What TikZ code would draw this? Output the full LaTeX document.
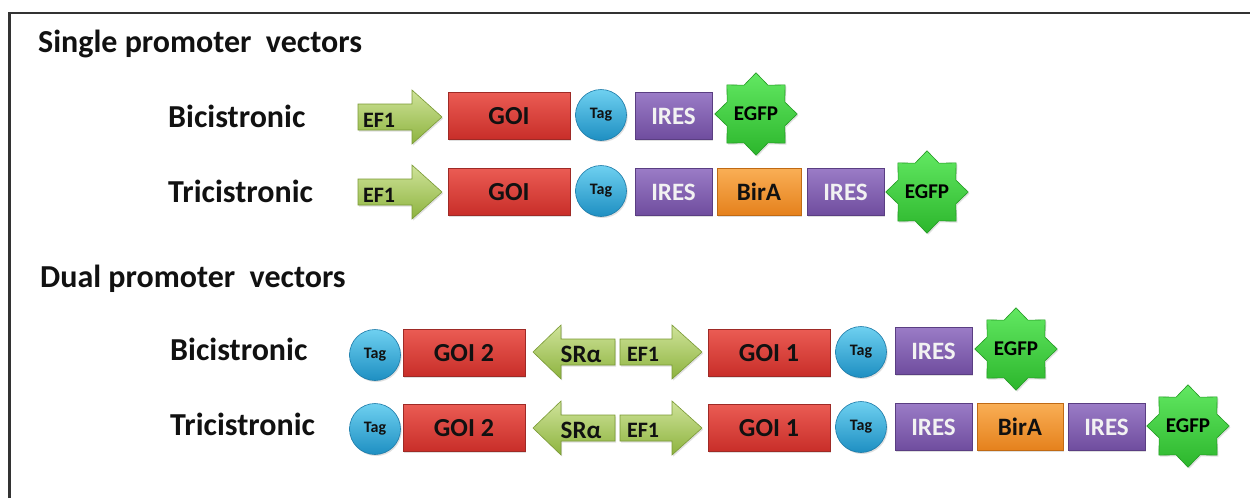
\documentclass[tikz,border=0pt]{standalone}
\usepackage{fontspec}
\setmainfont{Carlito}
\usetikzlibrary{shapes.geometric,shadows}
\definecolor{txt}{HTML}{111111}
\definecolor{redT}{HTML}{EA5B53}
\definecolor{redB}{HTML}{C82E29}
\definecolor{redD}{HTML}{9E2A26}
\definecolor{grT}{HTML}{CFE39A}
\definecolor{grB}{HTML}{8DB33E}
\definecolor{grD}{HTML}{7A9A35}
\definecolor{cyT}{HTML}{6ED0F0}
\definecolor{cyB}{HTML}{1E8FC2}
\definecolor{cyD}{HTML}{1B7AA8}
\definecolor{puT}{HTML}{9A7BC6}
\definecolor{puB}{HTML}{6F4D9E}
\definecolor{puD}{HTML}{5A3E82}
\definecolor{orT}{HTML}{F9AE55}
\definecolor{orB}{HTML}{E5811C}
\definecolor{orD}{HTML}{C06A14}
\definecolor{egT}{HTML}{62E862}
\definecolor{egB}{HTML}{2CB62C}
\definecolor{egD}{HTML}{239A23}
\newcommand\fs[1]{\fontsize{#1}{#1}\selectfont\bfseries}
\begin{document}
\begin{tikzpicture}[x=1pt,y=-1pt,
  sh/.style={drop shadow={opacity=0.25,shadow xshift=1.2pt,shadow yshift=-1.5pt}},
  box/.style={rectangle,minimum height=47pt,inner sep=0pt,line width=0.6pt,sh},
  goi/.style={box,top color=redT,bottom color=redB,draw=redD,text=txt,font=\fs{26}},
  ires/.style={box,minimum width=77pt,top color=puT,bottom color=puB,draw=puD,text=white!95!black,font=\fs{25}},
  bira/.style={box,top color=orT,bottom color=orB,draw=orD,text=txt,font=\fs{25}},
  tag/.style={circle,minimum size=51pt,inner sep=0pt,top color=cyT,bottom color=cyB,draw=cyD,line width=0.6pt,text=txt,font=\fs{16},sh},
  egfp/.style={star,star points=8,star point ratio=1.32,minimum size=78pt,inner sep=0pt,top color=egT,bottom color=egB,draw=egD,line width=0.6pt,text=black,font=\fs{21},sh},
  promo/.style={top color=grT,bottom color=grB,draw=grD,line width=0.6pt,sh},
  ptxt/.style={text=txt,font=\fs{22},inner sep=0pt},
  stxt/.style={text=txt,font=\fs{25},inner sep=0pt},
  lab/.style={anchor=base west,text=txt,font=\fs{32},inner sep=0pt},
  ttl/.style={anchor=base west,text=txt,font=\fs{32},inner sep=0pt}]
\useasboundingbox (0,0) rectangle (1250,498);
\fill[white] (0,0) rectangle (1250,498);
\draw[line width=2.6pt,color=black!80] (9.5,498) -- (9.5,13) -- (1250,13);
% arrows: right arrow from xl to tip xt at y
\newcommand\rarr[3]{\path[promo] (#1,#3-13) -- (#2-30,#3-13) -- (#2-30,#3-27) -- (#2,#3) -- (#2-30,#3+27) -- (#2-30,#3+13) -- (#1,#3+13) -- cycle;}
\newcommand\larr[3]{\path[promo] (#2,#3-13) -- (#1+28,#3-13) -- (#1+28,#3-27) -- (#1,#3) -- (#1+28,#3+27) -- (#1+28,#3+13) -- (#2,#3+13) -- cycle;}
% titles
\node[ttl] (t1) at (38,52) {Single promoter~ vectors};
\node[ttl] (t2) at (40,287) {Dual promoter~ vectors};
\node[lab] (l1) at (168,127) {Bicistronic};
\node[lab] (l2) at (168,202) {Tricistronic};
\node[lab] (l3) at (170,360) {Bicistronic};
\node[lab] (l4) at (170,435) {Tricistronic};
% row 1
\rarr{358}{442}{117}
\node[ptxt] (r1p) at (379,120) {EF1};
\node[goi,minimum width=122pt] (r1g) at (509,116) {GOI};
\node[tag] (r1t) at (601,115) {Tag};
\node[ires] (r1i) at (673.5,116) {IRES};
\node[egfp] (r1e) at (756,114) {EGFP};
% row 2
\rarr{358}{442}{192}
\node[ptxt] (r2p) at (379,195) {EF1};
\node[goi,minimum width=122pt] (r2g) at (509,192) {GOI};
\node[tag] (r2t) at (601,191) {Tag};
\node[ires] (r2i) at (673.5,192) {IRES};
\node[bira,minimum width=84pt] (r2b) at (759,192) {BirA};
\node[ires] (r2i2) at (845.5,192) {IRES};
\node[egfp] (r2e) at (927,192) {EGFP};
% row 3
\node[tag] (r3t1) at (375,355) {Tag};
\node[goi,minimum width=122pt] (r3g2) at (464,353) {GOI 2};
\larr{533}{615}{352}
\node[stxt] (r3s) at (581,354) {SRα};
\rarr{620}{702}{352}
\node[ptxt] (r3p) at (643,354) {EF1};
\node[goi,minimum width=122pt] (r3g1) at (769,353) {GOI 1};
\node[tag] (r3t2) at (861,352) {Tag};
\node[ires] (r3i) at (933.5,351) {IRES};
\node[egfp] (r3e) at (1016,349) {EGFP};
% row 4
\node[tag] (r4t1) at (375,429) {Tag};
\node[goi,minimum width=122pt] (r4g2) at (464,428) {GOI 2};
\larr{533}{615}{428}
\node[stxt] (r4s) at (581,430) {SRα};
\rarr{620}{702}{428}
\node[ptxt] (r4p) at (643,430) {EF1};
\node[goi,minimum width=122pt] (r4g1) at (769,428) {GOI 1};
\node[tag] (r4t2) at (861,427) {Tag};
\node[ires] (r4i) at (933.5,427) {IRES};
\node[bira,minimum width=86pt] (r4b) at (1020,427) {BirA};
\node[ires] (r4i2) at (1106.5,427) {IRES};
\node[egfp] (r4e) at (1188,426) {EGFP};
\end{tikzpicture}
\end{document}
